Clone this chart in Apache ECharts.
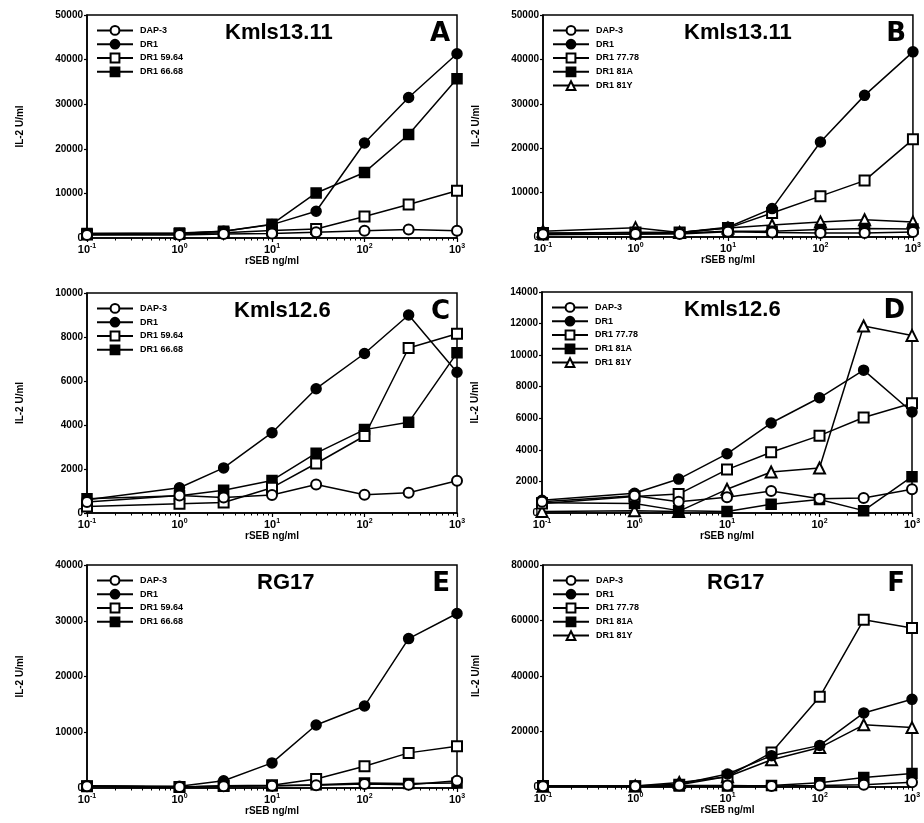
<!DOCTYPE html>
<html>
<head>
<meta charset="utf-8">
<script src="https://cdn.jsdelivr.net/npm/echarts@6/dist/echarts.min.js"></script>
<style>
html,body{margin:0;padding:0;background:#fff;}
#main{width:924px;height:823px;}
</style>
</head>
<body>
<div id="main"></div>
<script>
// rSEB doses (ng/ml)
var doses = [0.1, 1, 3, 10, 30, 100, 300, 1000];

// A - Kmls13.11
var aDap3   = [700, 700, 900, 1000, 1300, 1600, 1900, 1600];
var aDr1    = [1000, 1000, 1500, 3000, 6000, 21300, 31500, 41300];
var aDr5964 = [800, 900, 1200, 1700, 2000, 4800, 7500, 10600];
var aDr6668 = [1000, 1100, 1500, 3100, 10100, 14700, 23200, 35700];
// B - Kmls13.11
var bDap3   = [600, 700, 700, 1200, 1000, 900, 900, 1100];
var bDr1    = [800, 1000, 1000, 2200, 6400, 21400, 31900, 41700];
var bDr7778 = [900, 1000, 1000, 2000, 5400, 9200, 12700, 22000];
var bDr81A  = [500, 700, 900, 1300, 1300, 1700, 1900, 1800];
var bDr81Y  = [1300, 2100, 1000, 2000, 2700, 3400, 3900, 3400];
// C - Kmls12.6
var cDap3   = [500, 800, 700, 820, 1300, 830, 920, 1470];
var cDr1    = [600, 1150, 2050, 3650, 5650, 7250, 9000, 6400];
var cDr5964 = [300, 420, 480, 1150, 2250, 3500, 7500, 8150];
var cDr6668 = [650, 780, 1030, 1480, 2720, 3790, 4120, 7280];
// D - Kmls12.6
var dDap3   = [720, 1100, 720, 1000, 1400, 900, 950, 1500];
var dDr1    = [800, 1250, 2150, 3750, 5700, 7300, 9050, 6400];
var dDr7778 = [600, 1050, 1200, 2750, 3850, 4900, 6050, 6950];
var dDr81A  = [650, 600, 150, 100, 550, 850, 150, 2300];
var dDr81Y  = [100, 150, 100, 1500, 2600, 2850, 11850, 11250];
// E - RG17
var eDap3   = [300, 200, 300, 400, 500, 700, 600, 1300];
var eDr1    = [400, 300, 1300, 4500, 11300, 14700, 26800, 31300];
var eDr5964 = [300, 200, 400, 500, 1600, 3900, 6300, 7500];
var eDr6668 = [300, 200, 300, 400, 600, 900, 800, 900];
// F - RG17
var fDap3   = [300, 300, 500, 500, 400, 500, 800, 1700];
var fDr1    = [400, 400, 1000, 4700, 11300, 15000, 26700, 31600];
var fDr7778 = [400, 300, 800, 3800, 12400, 32500, 60300, 57300];
var fDr81A  = [300, 300, 400, 400, 500, 1500, 3400, 4900];
var fDr81Y  = [300, 400, 1600, 3700, 9800, 14200, 22400, 21400];

var yMax = [50000, 50000, 10000, 14000, 40000, 80000];
var yStep = [10000, 10000, 2000, 2000, 10000, 20000];
var cellNames = ['Kmls13.11', 'Kmls13.11', 'Kmls12.6', 'Kmls12.6', 'RG17', 'RG17'];
var letters = ['A', 'B', 'C', 'D', 'E', 'F'];

var namesLeft = ['DAP-3', 'DR1', 'DR1 59.64', 'DR1 66.68'];
var namesRight = ['DAP-3', 'DR1', 'DR1 77.78', 'DR1 81A', 'DR1 81Y'];
var symbols = {
    'DAP-3': 'emptyCircle', 'DR1': 'circle',
    'DR1 59.64': 'emptyRect', 'DR1 66.68': 'rect',
    'DR1 77.78': 'emptyRect', 'DR1 81A': 'rect', 'DR1 81Y': 'emptyTriangle'
};

var panels = [
    [aDap3, aDr1, aDr5964, aDr6668],
    [bDap3, bDr1, bDr7778, bDr81A, bDr81Y],
    [cDap3, cDr1, cDr5964, cDr6668],
    [dDap3, dDr1, dDr7778, dDr81A, dDr81Y],
    [eDap3, eDr1, eDr5964, eDr6668],
    [fDap3, fDr1, fDr7778, fDr81A, fDr81Y]
];

// grid boxes [left, top, width, height]
var boxes = [
    [87, 15, 370, 223], [543, 15, 370, 222],
    [87, 293, 370, 220], [542, 292, 370, 221],
    [87, 565, 370, 223], [543, 565, 369, 222]
];
// where the cell line name starts in each panel
var titleLeft = [220, 679, 229, 679, 252, 702];

var font = 'Liberation Sans, Arial, sans-serif';
var grids = [], xAxes = [], yAxes = [], series = [], legends = [], titles = [];

for (var p = 0; p < 6; p++) {
    var b = boxes[p];
    grids.push({
        left: b[0], top: b[1], width: b[2], height: b[3],
        show: true, borderColor: '#000', borderWidth: 1.5, backgroundColor: 'transparent'
    });
    xAxes.push({
        gridIndex: p, type: 'log', logBase: 10, min: 0.1, max: 1000,
        name: 'rSEB ng/ml', nameLocation: 'middle', nameGap: 16,
        nameTextStyle: {fontFamily: font, fontWeight: 'bold', fontSize: 10, color: '#000'},
        axisLine: {lineStyle: {color: '#000', width: 1.5}},
        axisTick: {show: true, length: 4, lineStyle: {color: '#000', width: 1.2}},
        minorTick: {show: true, splitNumber: 9, length: 2.5, lineStyle: {color: '#000', width: 1}},
        splitLine: {show: false},
        axisLabel: {
            margin: 5,
            formatter: function (v) {
                var e = Math.round(Math.log(v) / Math.LN10);
                return '{b|10}{s|' + e + '}';
            },
            rich: {
                b: {fontFamily: font, fontWeight: 'bold', fontSize: 11, color: '#000', lineHeight: 13},
                s: {fontFamily: font, fontWeight: 'bold', fontSize: 7, color: '#000', verticalAlign: 'top', lineHeight: 13}
            }
        }
    });
    yAxes.push({
        gridIndex: p, type: 'value', min: 0, max: yMax[p], interval: yStep[p],
        name: 'IL-2 U/ml', nameLocation: 'middle', nameGap: 62,
        nameTextStyle: {fontFamily: font, fontWeight: 'bold', fontSize: 10, color: '#000'},
        axisLine: {show: true, lineStyle: {color: '#000', width: 1.5}},
        axisTick: {show: true, length: 3, lineStyle: {color: '#000', width: 1.2}},
        splitLine: {show: false},
        axisLabel: {
            fontFamily: font, fontWeight: 'bold', fontSize: 10, color: '#000', margin: 4,
            formatter: function (v) { return String(v); }
        }
    });
    var names = panels[p].length === 4 ? namesLeft : namesRight;
    for (var s = 0; s < names.length; s++) {
        var vals = panels[p][s];
        var pts = [];
        for (var i = 0; i < doses.length; i++) pts.push([doses[i], vals[i]]);
        series.push({
            type: 'line', name: names[s], xAxisIndex: p, yAxisIndex: p,
            data: pts, symbol: symbols[names[s]],
            symbolSize: symbols[names[s]].indexOf('Triangle') >= 0 ? 11 : 10,
            showAllSymbol: true, clip: false, z: 2 + (names.length - s),
            lineStyle: {color: '#000', width: 1.5},
            itemStyle: {color: '#000', borderColor: '#000', borderWidth: 1.5},
            emphasis: {disabled: true},
            animation: false
        });
    }
    legends.push({
        orient: 'vertical', left: b[0] + 4, top: b[1] + 5,
        data: names, itemWidth: 36, itemHeight: 11, itemGap: 3,
        selectedMode: false,
        textStyle: {fontFamily: font, fontWeight: 'bold', fontSize: 9, color: '#000', padding: [0, 0, 0, 2]}
    });
    titles.push({
        text: cellNames[p], left: titleLeft[p], top: b[1] + 2,
        textStyle: {fontFamily: font, fontWeight: 'bold', fontSize: 22, color: '#000'}
    });
    titles.push({
        text: letters[p], right: 924 - (b[0] + b[2]) + 2, top: b[1] + 1,
        textStyle: {fontFamily: 'DejaVu Sans, sans-serif', fontWeight: 'bold', fontSize: 26, color: '#000'}
    });
}

var myChart = echarts.init(document.getElementById('main'), null, {renderer: 'canvas'});
myChart.setOption({
    animation: false,
    backgroundColor: '#fff',
    title: titles,
    legend: legends,
    grid: grids,
    xAxis: xAxes,
    yAxis: yAxes,
    series: series
});
</script>
</body>
</html>
